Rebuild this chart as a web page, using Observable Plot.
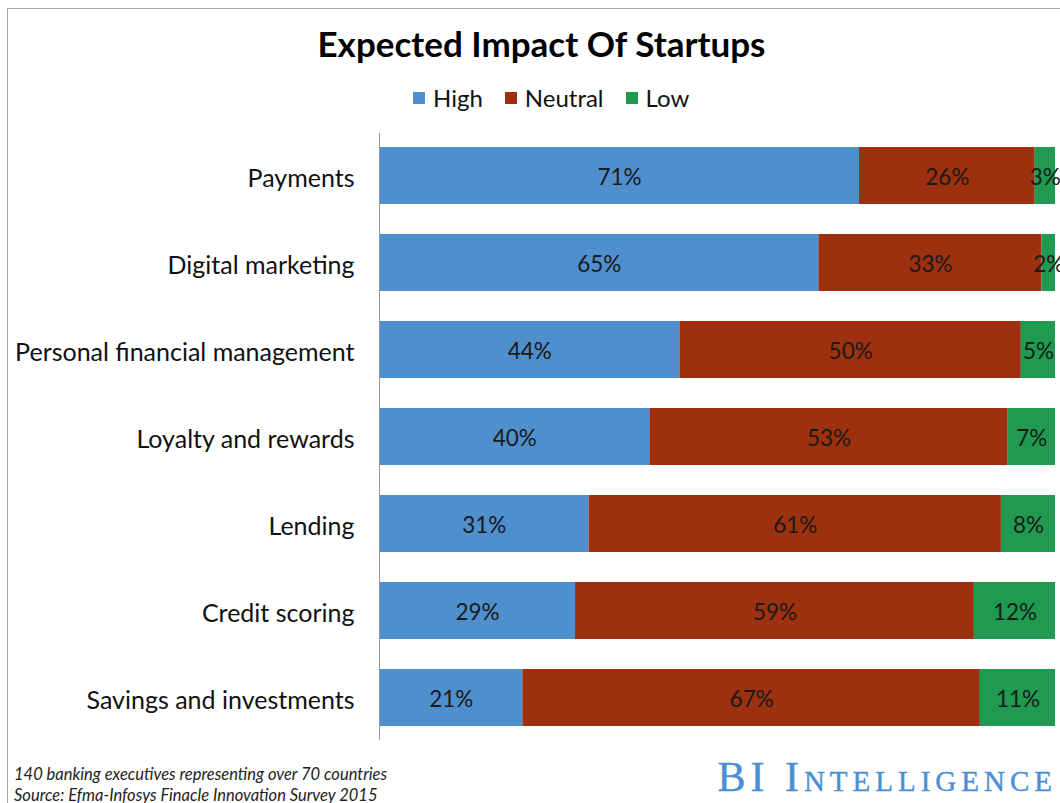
<!DOCTYPE html>
<html>
<head>
<meta charset="utf-8">
<script src="https://cdn.jsdelivr.net/npm/d3@7"></script>
<script src="https://cdn.jsdelivr.net/npm/@observablehq/plot@0.6"></script>
<style>
  html, body { margin: 0; padding: 0; background: #fff; width: 1060px; height: 803px; overflow: hidden; }
  body { font-family: Lato, "Open Sans", sans-serif; color: #111; position: relative; }
  #frame { position: absolute; left: 7px; top: 8px; width: 1200px; height: 900px; border-left: 1.5px solid #a8a8a8; border-top: 1.5px solid #a8a8a8; pointer-events: none; }
  #header { position: relative; height: 120px; }
  #title { position: absolute; left: 0; width: 1083px; top: 22px; text-align: center; font-weight: 700; font-size: 35px; color: #000; }
  #legend { position: absolute; left: 413px; top: 83px; display: flex; align-items: center; font-size: 24px; color: #111; }
  #legend .sw { width: 12px; height: 12px; display: inline-block; margin-right: 8px; }
  #legend .item { display: flex; align-items: center; margin-right: 22px; }
  #footer { position: relative; height: 43px; }
  #note { position: absolute; left: 14px; top: 4px; font-style: italic; font-size: 16.5px; line-height: 21px; color: #222; }
  #brand { position: absolute; right: 3px; top: -4px; font-family: "Liberation Serif", "DejaVu Serif", serif; font-variant: small-caps; font-size: 42px; line-height: 42px; color: #4a8fd4; letter-spacing: 5px; -webkit-text-stroke: 0.4px #4a8fd4; }
  svg { display: block; }
</style>
</head>
<body>
<div id="frame"></div>
<div id="header">
  <div id="title">Expected Impact Of Startups</div>
  <div id="legend"></div>
</div>
<div id="chart"></div>
<div id="footer">
  <div id="note">140 banking executives representing over 70 countries<br>Source: Efma-Infosys Finacle Innovation Survey 2015</div>
  <div id="brand">BI Intelligence</div>
</div>
<script>
const categories = ["Payments", "Digital marketing", "Personal financial management", "Loyalty and rewards", "Lending", "Credit scoring", "Savings and investments"];
const levels = ["High", "Neutral", "Low"];
const colors = ["#4f8fcd", "#9d300f", "#1f9a50"];
const high    = [71, 65, 44, 40, 31, 29, 21];
const neutral = [26, 33, 50, 53, 61, 59, 67];
const low     = [3, 2, 5, 7, 8, 12, 11];

const series = {High: high, Neutral: neutral, Low: low};
const data = [];
categories.forEach((c, i) => {
  levels.forEach(l => data.push({category: c, level: l, value: series[l][i]}));
});

// legend
const legend = document.getElementById("legend");
levels.forEach((l, i) => {
  const item = document.createElement("div");
  item.className = "item";
  const sw = document.createElement("span");
  sw.className = "sw";
  sw.style.background = colors[i];
  item.appendChild(sw);
  item.appendChild(document.createTextNode(l));
  legend.appendChild(item);
});

const stackOpts = {x: "value", y: "category", z: "level", offset: "normalize", order: levels};

const chart = Plot.plot({
  width: 1060,
  height: 640,
  marginTop: 13,
  marginBottom: 20,
  marginLeft: 379,
  marginRight: 5,
  style: {fontFamily: "Lato, 'Open Sans', sans-serif", overflow: "visible", background: "transparent"},
  x: {domain: [0, 1], axis: null},
  y: {domain: categories, paddingInner: 0.346, paddingOuter: 0.16, axis: null},
  color: {domain: levels, range: colors},
  marks: [
    Plot.barX(data, Plot.stackX({...stackOpts, fill: "level"})),
    Plot.text(data, Plot.stackX({...stackOpts, text: d => d.value + "%", fontSize: 22.5, fill: "#1a1a1a", dy: 2})),
    Plot.axisY({tickSize: 0, tickPadding: 25, fontSize: 25, label: null, color: "#111", dy: 3}),
    Plot.ruleX([0], {stroke: "#999", strokeWidth: 1})
  ]
});
document.getElementById("chart").appendChild(chart);
</script>
</body>
</html>
